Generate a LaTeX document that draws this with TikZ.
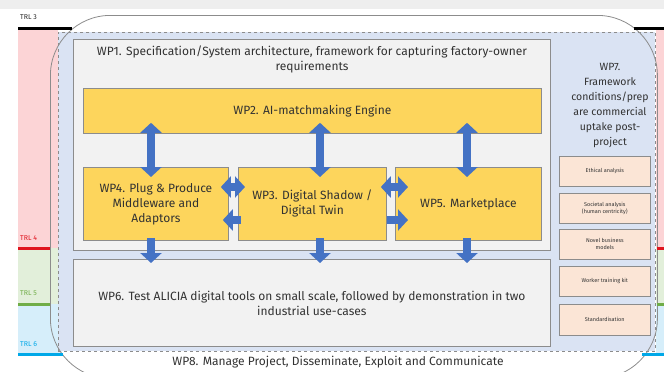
\documentclass[tikz,border=0pt]{standalone}
\usepackage{fontspec}
\setmainfont{Fira Sans}
\usetikzlibrary{arrows.meta,calc}

\definecolor{wpyellow}{RGB}{253,213,92}
\definecolor{wpborder}{RGB}{140,140,140}
\definecolor{wpgray}{RGB}{242,242,242}
\definecolor{wpblue}{RGB}{218,227,243}
\definecolor{wppeach}{RGB}{251,229,214}
\definecolor{arrowblue}{RGB}{68,114,196}
\definecolor{txt}{RGB}{50,50,50}
\definecolor{trlpink}{RGB}{252,212,214}
\definecolor{trlgreen}{RGB}{226,239,218}
\definecolor{trlblue}{RGB}{214,238,250}
\definecolor{trlred}{RGB}{224,20,30}
\definecolor{trlgreenline}{RGB}{112,173,71}
\definecolor{trlcyan}{RGB}{0,168,232}
\definecolor{topgray}{RGB}{238,238,238}

\begin{document}
\begin{tikzpicture}[x=1pt,y=-1pt,
  greybox/.style={draw=wpborder, fill=wpgray, line width=0.8pt, inner sep=0pt, anchor=north west},
  yellowbox/.style={draw=wpborder, fill=wpyellow, line width=0.8pt, inner sep=0pt, anchor=north west,
    text=txt, align=center, font=\fontsize{12}{15}\selectfont},
  peachbox/.style={draw=wpborder, fill=wppeach, line width=0.6pt, inner sep=0pt, anchor=north west,
    minimum width=91pt, text=txt, align=center, font=\fontsize{5.5}{7}\selectfont},
  maintext/.style={text=txt, align=center, font=\fontsize{12}{15}\selectfont},
  trllabel/.style={anchor=west, inner sep=0pt, font=\fontsize{7}{8}\selectfont},
  trlline/.style={line width=3pt},
  dblarrow/.style={draw=arrowblue, line width=8pt,
    {Triangle[width=21pt,length=10pt]}-{Triangle[width=21pt,length=10pt]}},
  sglarrow/.style={draw=arrowblue, line width=8pt, -{Triangle[width=21pt,length=10pt]}},
]
\useasboundingbox (0,0) rectangle (664,372);
\clip (0,0) rectangle (664,372);

% faint strip along the top edge
\fill[topgray] (0,0) rectangle (664,9);

% TRL bands, left and right
\fill[trlpink]  (18,28)  rectangle (58,248);
\fill[trlgreen] (18,248) rectangle (58,304);
\fill[trlblue]  (18,304) rectangle (62,354);
\fill[trlpink]  (656,28)  rectangle (664,248);
\fill[trlgreen] (656,248) rectangle (664,304);
\fill[trlblue]  (656,304) rectangle (664,354);

% project area (light blue, dashed)
\node[draw=wpborder, fill=wpblue, dashed, line width=0.6pt, inner sep=0pt, anchor=north west,
  minimum width=597pt, minimum height=319pt] (area) at (58,32) {};

% WP8 outline
\node[draw=wpborder, rounded corners=60pt, line width=0.8pt, inner sep=0pt, anchor=north west,
  minimum width=607pt, minimum height=363pt] (wp8) at (50,15) {};

% TRL level lines
\draw[trlline, black]        (18,28)  -- (72,28);
\draw[trlline, black]        (634,28) -- (664,28);
\draw[trlline, trlred]       (18,248) -- (50,248);
\draw[trlline, trlred]       (657,248) -- (664,248);
\draw[trlline, trlgreenline] (18,304) -- (50,304);
\draw[trlline, trlgreenline] (657,304) -- (664,304);
\draw[trlline, trlcyan]      (18,354) -- (63,354);
\draw[trlline, trlcyan]      (642,354) -- (664,354);

\node[trllabel, text=black!85]      (trl3) at (20,17)  {TRL 3};
\node[trllabel, text=trlred]        (trl4) at (20,238) {TRL 4};
\node[trllabel, text=trlgreenline]  (trl5) at (20,293) {TRL 5};
\node[trllabel, text=trlcyan]       (trl6) at (20,344) {TRL 6};

% WP1 frame
\node[greybox, minimum width=477pt, minimum height=211pt] (wp1) at (73,39) {};
\node[maintext] (wp1t) at (312,59.5)
  {WP1. Specification/System architecture, framework for capturing factory-owner\\requirements};

% WP2 .. WP5
\node[yellowbox, minimum width=458pt, minimum height=45pt] (wp2) at (83,88) {WP2. AI-matchmaking Engine};
\node[yellowbox, minimum width=145pt, minimum height=73pt] (wp4) at (83,167)
  {WP4. Plug \& Produce\\Middleware and\\Adaptors};
\node[yellowbox, minimum width=148pt, minimum height=73pt] (wp3) at (238,167)
  {WP3. Digital Shadow /\\Digital Twin};
\node[yellowbox, minimum width=146pt, minimum height=73pt] (wp5) at (395,167)
  {WP5. Marketplace};

% WP6
\node[greybox, minimum width=477pt, minimum height=87pt, maintext] (wp6) at (73,259)
  {WP6. Test ALICIA digital tools on small scale, followed by demonstration in two\\industrial use-cases};

% WP7 column
\node[maintext, font=\fontsize{10.5}{15}\selectfont] (wp7) at (610,105.5)
  {WP7.\\Framework\\conditions/prep\\are commercial\\uptake post-\\project};
\node[peachbox, minimum height=30pt] (ethic) at (559,156) {Ethical analysis};
\node[peachbox, minimum height=30pt] (soc)   at (559,193) {Societal analysis\\(human centricity)};
\node[peachbox, minimum height=30pt] (biz)   at (559,229) {Novel business\\models};
\node[peachbox, minimum height=30pt] (train) at (559,266) {Worker training kit};
\node[peachbox, minimum height=31pt] (std)   at (559,304) {Standardisation};

% WP8 caption
\node[maintext] (wp8t) at (338,362) {WP8. Manage Project, Disseminate, Exploit and Communicate};

% WP2 <-> WP4 / WP3 / WP5
\draw[dblarrow] ($(wp2.south west)+(68,-11)$)  -- ($(wp4.north west)+(68,10)$);
\draw[dblarrow] ($(wp2.south west)+(237,-11)$) -- ($(wp3.north west)+(82,10)$);
\draw[dblarrow] ($(wp2.south west)+(384,-11)$) -- ($(wp5.north west)+(72,10)$);

% WP4 <-> WP3 <-> WP5
\draw[dblarrow] ($(wp4.north east)+(-8,20)$) -- ($(wp3.north west)+(7,20)$);
\draw[dblarrow] ($(wp3.north east)+(-6,20)$) -- ($(wp5.north west)+(13,20)$);
\draw[sglarrow] ($(wp3.north west)+(3,53)$)  -- ($(wp4.north east)+(-6,53)$);
\draw[sglarrow] ($(wp3.north east)+(0,53)$)  -- ($(wp5.north west)+(13,53)$);

% WP4 / WP3 / WP5 -> WP6
\draw[sglarrow] ($(wp4.south west)+(68,-3)$) -- ($(wp6.north west)+(78,4)$);
\draw[sglarrow] ($(wp3.south west)+(82,-3)$) -- ($(wp6.north west)+(247,4)$);
\draw[sglarrow] ($(wp5.south west)+(72,-3)$) -- ($(wp6.north west)+(394,4)$);
\end{tikzpicture}
\end{document}
